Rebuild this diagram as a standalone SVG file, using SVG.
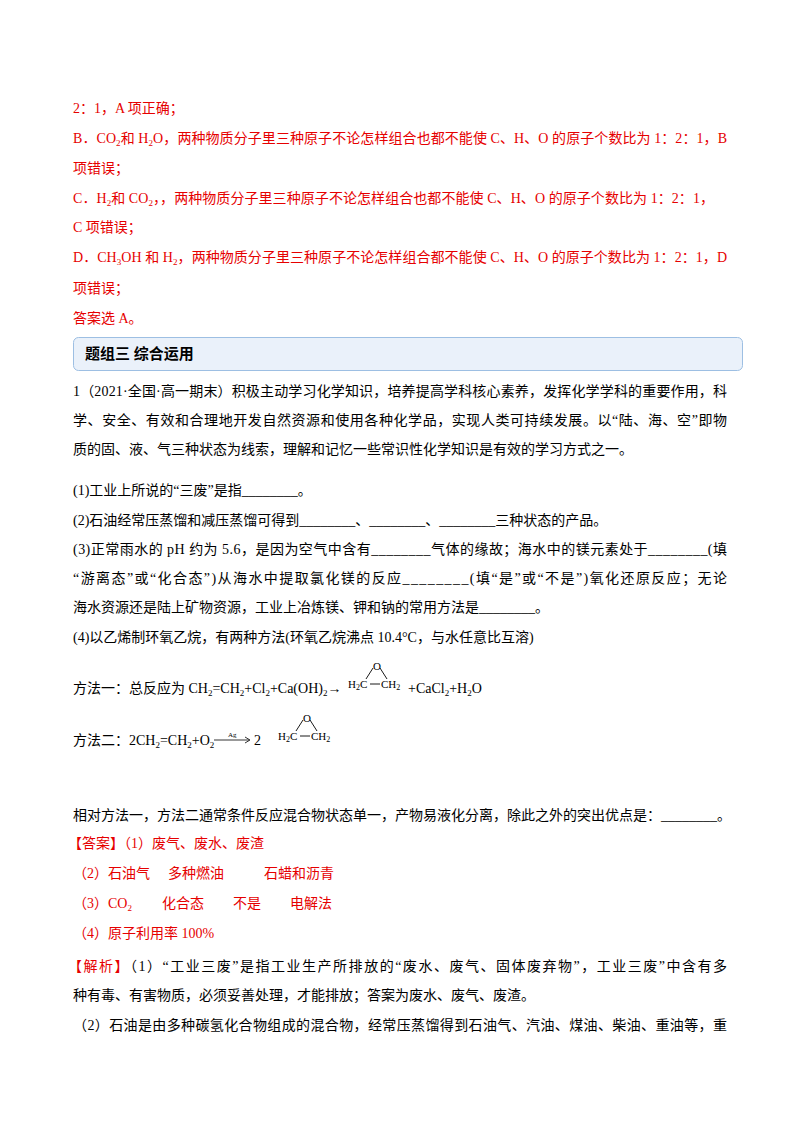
<svg xmlns="http://www.w3.org/2000/svg" width="800" height="1132" viewBox="0 0 800 1132">
<style>
text{font-family:"Liberation Serif","Noto Sans CJK SC",serif;font-size:14px;fill:#000}
.r{fill:#e60000}
.s{font-size:9px}
.m{font-size:11px}
.t{font-size:8px}
.ag{font-size:7px}
.b{font-weight:bold;font-size:15px}
</style>
<rect width="800" height="1132" fill="#fff"/>
<g id="answer-prev">
<text class="r" x="73" y="113">2：1，A 项正确；</text>
<text class="r" x="73" y="143" textLength="654">B．CO<tspan class="s" dy="3">2</tspan><tspan dy="-3">和 H</tspan><tspan class="s" dy="3">2</tspan><tspan dy="-3">O，两种物质分子里三种原子不论怎样组合也都不能使 C、H、O 的原子个数比为 1：2：1，B</tspan></text>
<text class="r" x="73" y="173">项错误；</text>
<text class="r" x="73" y="203" textLength="641">C．H<tspan class="s" dy="3">2</tspan><tspan dy="-3">和 CO</tspan><tspan class="s" dy="3">2</tspan><tspan dy="-3">，，两种物质分子里三种原子不论怎样组合也都不能使 C、H、O 的原子个数比为 1：2：1，</tspan></text>
<text class="r" x="73" y="232">C 项错误；</text>
<text class="r" x="73" y="262" textLength="654">D．CH<tspan class="s" dy="3">3</tspan><tspan dy="-3">OH 和 H</tspan><tspan class="s" dy="3">2</tspan><tspan dy="-3">，两种物质分子里三种原子不论怎样组合都不能使 C、H、O 的原子个数比为 1：2：1，D</tspan></text>
<text class="r" x="73" y="293">项错误；</text>
<text class="r" x="73" y="323">答案选 A。</text>
</g>
<g id="header">
<rect x="73.5" y="337.5" width="669" height="33" rx="5" fill="#eaf1fa" stroke="#9dbfe3"/>
<text class="b" x="85" y="359">题组三  综合运用</text>
</g>
<g id="question">
<text x="73" y="396" textLength="654">1（2021·全国·高一期末）积极主动学习化学知识，培养提高学科核心素养，发挥化学学科的重要作用，科</text>
<text x="73" y="425" textLength="654">学、安全、有效和合理地开发自然资源和使用各种化学品，实现人类可持续发展。以“陆、海、空”即物</text>
<text x="73" y="454">质的固、液、气三种状态为线索，理解和记忆一些常识性化学知识是有效的学习方式之一。</text>
<text x="73" y="495">(1)工业上所说的“三废”是指________。</text>
<text x="73" y="525">(2)石油经常压蒸馏和减压蒸馏可得到________、________、________三种状态的产品。</text>
<text x="73" y="554" textLength="654">(3)正常雨水的 pH 约为 5.6，是因为空气中含有________气体的缘故；海水中的镁元素处于________(填</text>
<text x="73" y="583" textLength="654">“游离态”或“化合态”)从海水中提取氯化镁的反应________(填“是”或“不是”)氧化还原反应；无论</text>
<text x="73" y="612">海水资源还是陆上矿物资源，工业上冶炼镁、钾和钠的常用方法是________。</text>
<text x="73" y="642">(4)以乙烯制环氧乙烷，有两种方法(环氧乙烷沸点 10.4°C，与水任意比互溶)</text>
<text x="73" y="693">方法一：总反应为 CH<tspan class="s" dy="3">2</tspan><tspan dy="-3">=CH</tspan><tspan class="s" dy="3">2</tspan><tspan dy="-3">+Cl</tspan><tspan class="s" dy="3">2</tspan><tspan dy="-3">+Ca(OH)</tspan><tspan class="s" dy="3">2</tspan><tspan dy="-3">→</tspan></text>
<g id="epoxide1">
<text class="m" x="348" y="688">H<tspan class="t" dy="2">2</tspan><tspan dy="-2">C</tspan></text>
<line x1="370" y1="684" x2="380" y2="684" stroke="#000" stroke-width="0.9"/>
<text class="m" x="381" y="688">CH<tspan class="t" dy="2">2</tspan></text>
<text class="m" x="373" y="670">O</text>
<line x1="366" y1="679" x2="373" y2="668" stroke="#000" stroke-width="0.9"/>
<line x1="380" y1="668" x2="387" y2="679" stroke="#000" stroke-width="0.9"/>
</g>
<text x="408" y="693">+CaCl<tspan class="s" dy="3">2</tspan><tspan dy="-3">+H</tspan><tspan class="s" dy="3">2</tspan><tspan dy="-3">O</tspan></text>
<text x="73" y="745">方法二：2CH<tspan class="s" dy="3">2</tspan><tspan dy="-3">=CH</tspan><tspan class="s" dy="3">2</tspan><tspan dy="-3">+O</tspan><tspan class="s" dy="3">2</tspan></text>
<line x1="214" y1="740" x2="249" y2="740" stroke="#000" stroke-width="0.8"/>
<path d="M245,737 L250,740 L245,743" fill="none" stroke="#000" stroke-width="0.8"/>
<text class="ag" x="228" y="737">Ag</text>
<text x="254" y="745">2</text>
<g id="epoxide2">
<text class="m" x="278" y="740">H<tspan class="t" dy="2">2</tspan><tspan dy="-2">C</tspan></text>
<line x1="300" y1="736" x2="310" y2="736" stroke="#000" stroke-width="0.9"/>
<text class="m" x="311" y="740">CH<tspan class="t" dy="2">2</tspan></text>
<text class="m" x="303" y="722">O</text>
<line x1="296" y1="731" x2="303" y2="720" stroke="#000" stroke-width="0.9"/>
<line x1="310" y1="720" x2="317" y2="731" stroke="#000" stroke-width="0.9"/>
</g>
<text x="73" y="820">相对方法一，方法二通常条件反应混合物状态单一，产物易液化分离，除此之外的突出优点是：________。</text>
</g>
<g id="answers">
<text class="r" x="68" y="848">【答案】（1）废气、废水、废渣</text>
<text class="r" x="73" y="878">（2）石油气</text>
<text class="r" x="168" y="878">多种燃油</text>
<text class="r" x="264" y="878">石蜡和沥青</text>
<text class="r" x="73" y="908">（3）CO<tspan class="s" dy="3">2</tspan></text>
<text class="r" x="162" y="908">化合态</text>
<text class="r" x="233" y="908">不是</text>
<text class="r" x="290" y="908">电解法</text>
<text class="r" x="73" y="938">（4）原子利用率 100%</text>
<text class="r" x="68" y="971" textLength="659">【解析】<tspan fill="#000">（1）“工业三废”是指工业生产所排放的“废水、废气、固体废弃物”，工业三废”中含有多</tspan></text>
<text x="73" y="1000">种有毒、有害物质，必须妥善处理，才能排放；答案为废水、废气、废渣。</text>
<text x="73" y="1030" textLength="654">（2）石油是由多种碳氢化合物组成的混合物，经常压蒸馏得到石油气、汽油、煤油、柴油、重油等，重</text>
</g>
</svg>
